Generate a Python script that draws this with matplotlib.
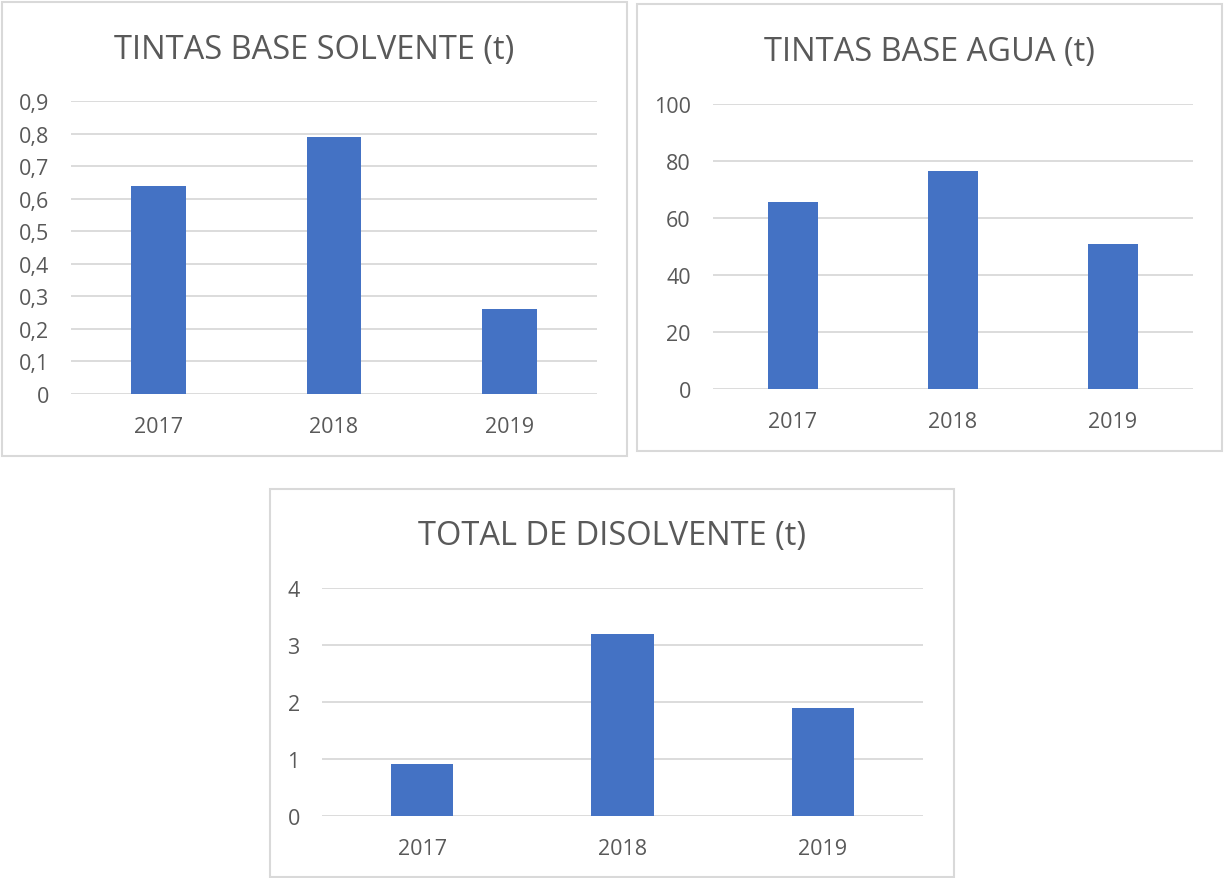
import matplotlib.pyplot as plt
import matplotlib.patches as patches
from matplotlib.ticker import FuncFormatter, MultipleLocator

# Datos
years = ["2017", "2018", "2019"]
solvente = [0.64, 0.79, 0.26]
agua = [65.5, 76.5, 51.0]
disolvente = [0.91, 3.2, 1.9]

W, H = 1225, 879
bar_color = "#4472C4"
grid_color = "#D9D9D9"
text_color = "#595959"

plt.rcParams['font.family'] = ['Open Sans', 'DejaVu Sans']

fig = plt.figure(figsize=(W / 100, H / 100), dpi=100)


def px_rect(x0, y0, x1, y1):
    # Convertir pixeles a fracciones de la figura
    return [x0 / W, 1 - y1 / H, (x1 - x0) / W, (y1 - y0) / H]


def comma(v, pos):
    s = ("%.1f" % v).rstrip("0").rstrip(".")
    return s.replace(".", ",")


def draw_chart(box, plot, title, title_y, values, ymax, step, fmt=None):
    # Marco del grafico
    bx0, by0, bx1, by1 = box
    fig.patches.append(patches.Rectangle((bx0 / W, 1 - by1 / H), (bx1 - bx0) / W, (by1 - by0) / H,
                                         transform=fig.transFigure, fill=False,
                                         edgecolor=grid_color, linewidth=1.5))
    fig.text((bx0 + bx1) / 2 / W, 1 - title_y / H, title, ha="center", va="center",
             fontsize=23.5, color=text_color)

    ax = fig.add_axes(px_rect(*plot))
    ax.bar(range(len(years)), values, width=0.31, color=bar_color, zorder=3)
    ax.set_xlim(-0.5, len(years) - 0.5)
    ax.set_ylim(0, ymax)
    ax.yaxis.set_major_locator(MultipleLocator(step))
    if fmt:
        ax.yaxis.set_major_formatter(FuncFormatter(fmt))
    ax.set_xticks(range(len(years)))
    ax.set_xticklabels(years)
    ax.grid(axis="y", color=grid_color, linewidth=1.3, zorder=0)
    for s in ax.spines.values():
        s.set_visible(False)
    ax.tick_params(axis="both", length=0, labelsize=15.5, labelcolor=text_color)
    ax.tick_params(axis="y", pad=16)
    ax.tick_params(axis="x", pad=16)
    ax.set_facecolor("none")
    return ax


draw_chart((2, 3, 627, 457), (71, 102, 597, 395), "TINTAS BASE SOLVENTE (t)", 50,
           solvente, 0.9, 0.1, comma)
draw_chart((637, 5, 1222, 452), (713, 105, 1193, 390), "TINTAS BASE AGUA (t)", 52,
           agua, 100, 20)
draw_chart((270, 490, 954, 878), (322, 589, 923, 817), "TOTAL DE DISOLVENTE (t)", 537,
           disolvente, 4, 1)

fig.savefig("out.png", dpi=100)
